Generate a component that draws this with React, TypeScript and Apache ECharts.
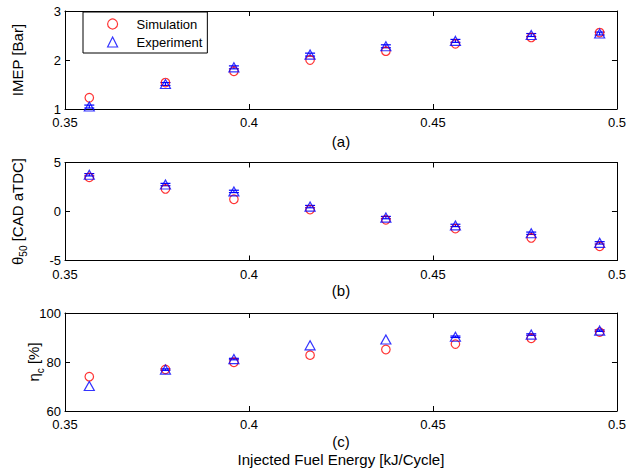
import React, { useEffect, useRef } from "react";
import * as echarts from "echarts";

const X = [0.3566, 0.3773, 0.3959, 0.4166, 0.4372, 0.4561, 0.4767, 0.4953];
const xTicks = [0.35, 0.5, 0.05];

const imepSim = [1.23, 1.54, 1.77, 2.0, 2.18, 2.33, 2.46, 2.56];
const imepExp = [1.05, 1.51, 1.85, 2.11, 2.28, 2.39, 2.51, 2.54];
const imepErr = [0.03, 0.03, 0.03, 0.03, 0.03, 0.03, 0.03, 0.03];

const thetaSim = [3.48, 2.3, 1.25, 0.2, -0.85, -1.75, -2.7, -3.55];
const thetaExp = [3.75, 2.75, 2.05, 0.5, -0.62, -1.42, -2.22, -3.2];
const thetaErr = [0.12, 0.12, 0.12, 0.12, 0.12, 0.12, 0.12, 0.12];

const etaSim = [74.0, 77.0, 79.9, 82.8, 85.1, 87.3, 89.7, 92.2];
const etaExp = [70.2, 76.9, 81.2, 86.8, 89.2, 90.3, 91.2, 92.8];
const etaErr = [null, 0.3, 0.3, null, null, 0.3, 0.3, 0.3];

const yRanges = [
  [1, 3, 1],
  [-5, 5, 5],
  [60, 100, 20],
];
const yNames = [
  "{n|IMEP [Bar]}",
  "{n|θ}{s|50}{n| [CAD aTDC]}",
  "{n|η}{s|c}{n| [%]}",
];
const xNames = ["(a)", "(b)", "(c)\nInjected Fuel Energy [kJ/Cycle]"];

const FONT = "'Liberation Sans', Arial, sans-serif";
const RED = "#ff0000";
const BLUE = "#0000ff";

export default function App() {
  const ref = useRef<HTMLDivElement>(null);
  useEffect(() => {
    document.body.style.margin = "0";
    const chart = echarts.init(ref.current!, null, { renderer: "svg" });
    const tops = [11, 162.5, 313];
    const grids = tops.map((t) => ({ left: 65, right: 11, top: t, height: 98 }));
    const line = { show: true, onZero: false, lineStyle: { color: "#000", width: 1 } };
    const tick = { show: true, inside: true, length: 5, lineStyle: { color: "#000", width: 1 } };
    const fmt = (v: number) => String(Number(v.toFixed(2)));
    const xGaps = [23.5, 21, 21];
    const yGaps = [38.5, 38.5, 22];
    const xAxis: any[] = [];
    const yAxis: any[] = [];
    for (let i = 0; i < 3; i++) {
      xAxis.push({
        type: "value", gridIndex: i, min: xTicks[0], max: xTicks[1], interval: xTicks[2],
        axisLine: line, axisTick: tick, splitLine: { show: false },
        axisLabel: { color: "#000", fontSize: 13, fontFamily: FONT, margin: 7, formatter: fmt },
        name: xNames[i], nameLocation: "middle", nameGap: xGaps[i], nameMoveOverlap: false,
        nameTextStyle: { color: "#000", fontSize: 15, fontFamily: FONT, lineHeight: 18 },
      });
      yAxis.push({
        type: "value", gridIndex: i, min: yRanges[i][0], max: yRanges[i][1], interval: yRanges[i][2],
        axisLine: line, axisTick: tick, splitLine: { show: false },
        axisLabel: { color: "#000", fontSize: 13, fontFamily: FONT, margin: 4 },
        name: yNames[i], nameLocation: "middle", nameRotate: 90, nameGap: yGaps[i], nameMoveOverlap: false,
        nameTextStyle: {
          color: "#000", fontFamily: FONT,
          rich: {
            n: { fontSize: 15, fontFamily: FONT, color: "#000", lineHeight: 17, verticalAlign: "top" },
            s: { fontSize: 10, fontFamily: FONT, color: "#000", lineHeight: 11, padding: [9, 0, 0, 0], verticalAlign: "top" },
          },
        },
      });
    }
    for (let i = 0; i < 3; i++) {
      xAxis.push({
        type: "value", gridIndex: i, position: "top", min: xTicks[0], max: xTicks[1], interval: xTicks[2],
        axisLine: line, axisTick: tick, axisLabel: { show: false }, splitLine: { show: false },
      });
      yAxis.push({
        type: "value", gridIndex: i, position: "right", min: yRanges[i][0], max: yRanges[i][1], interval: yRanges[i][2],
        axisLine: line, axisTick: tick, axisLabel: { show: false }, splitLine: { show: false },
      });
    }
    const sims = [imepSim, thetaSim, etaSim];
    const exps = [imepExp, thetaExp, etaExp];
    const errs = [imepErr, thetaErr, etaErr];
    const series: any[] = [];
    for (let i = 0; i < 3; i++) {
      series.push({
        type: "scatter", name: "Simulation", xAxisIndex: i, yAxisIndex: i,
        symbol: "circle", symbolSize: 8.5,
        itemStyle: { color: "rgba(255,255,255,0)", borderColor: RED, borderWidth: 1.2 },
        data: X.map((x, k) => [x, sims[i][k]]),
      });
      series.push({
        type: "scatter", name: "Experiment", xAxisIndex: i, yAxisIndex: i,
        symbol: "triangle", symbolSize: [10, 9],
        itemStyle: { color: "rgba(255,255,255,0)", borderColor: BLUE, borderWidth: 1.2 },
        data: X.map((x, k) => [x, exps[i][k]]),
      });
      series.push({
        type: "custom", name: "err" + i, xAxisIndex: i, yAxisIndex: i,
        renderItem: (params: any, api: any) => {
          const x = api.value(0), y = api.value(1), e = api.value(2);
          const a = api.coord([x, y + e]);
          const b = api.coord([x, y - e]);
          const st = { stroke: BLUE, lineWidth: 1.2 };
          const hw = 5;
          return {
            type: "group",
            children: [
              { type: "line", shape: { x1: a[0], y1: a[1], x2: b[0], y2: b[1] }, style: st },
              { type: "line", shape: { x1: a[0] - hw, y1: a[1], x2: a[0] + hw, y2: a[1] }, style: st },
              { type: "line", shape: { x1: b[0] - hw, y1: b[1], x2: b[0] + hw, y2: b[1] }, style: st },
            ],
          };
        },
        data: X.map((x, k) => [x, exps[i][k], errs[i][k]]).filter((d) => d[2] != null),
      });
    }
    chart.setOption({
      animation: false,
      backgroundColor: "#fff",
      textStyle: { fontFamily: FONT },
      grid: grids,
      xAxis,
      yAxis,
      legend: {
        left: 83, top: 12, orient: "vertical",
        backgroundColor: "#fff", borderColor: "#000", borderWidth: 1,
        padding: [5, 5, 4, 24], itemGap: 4, itemWidth: 10, itemHeight: 10,
        textStyle: { color: "#000", fontSize: 13, fontFamily: FONT, lineHeight: 14, padding: [0, 0, 0, 14] },
        data: [
          { name: "Simulation", icon: "circle", itemStyle: { color: "rgba(255,255,255,0)", borderColor: RED, borderWidth: 1.2 } },
          { name: "Experiment", icon: "triangle", itemStyle: { color: "rgba(255,255,255,0)", borderColor: BLUE, borderWidth: 1.2 } },
        ],
      },
      series,
    });
    return () => chart.dispose();
  }, []);
  return <div ref={ref} style={{ width: 629, height: 470, position: "fixed", left: 0, top: 0 }} />;
}
